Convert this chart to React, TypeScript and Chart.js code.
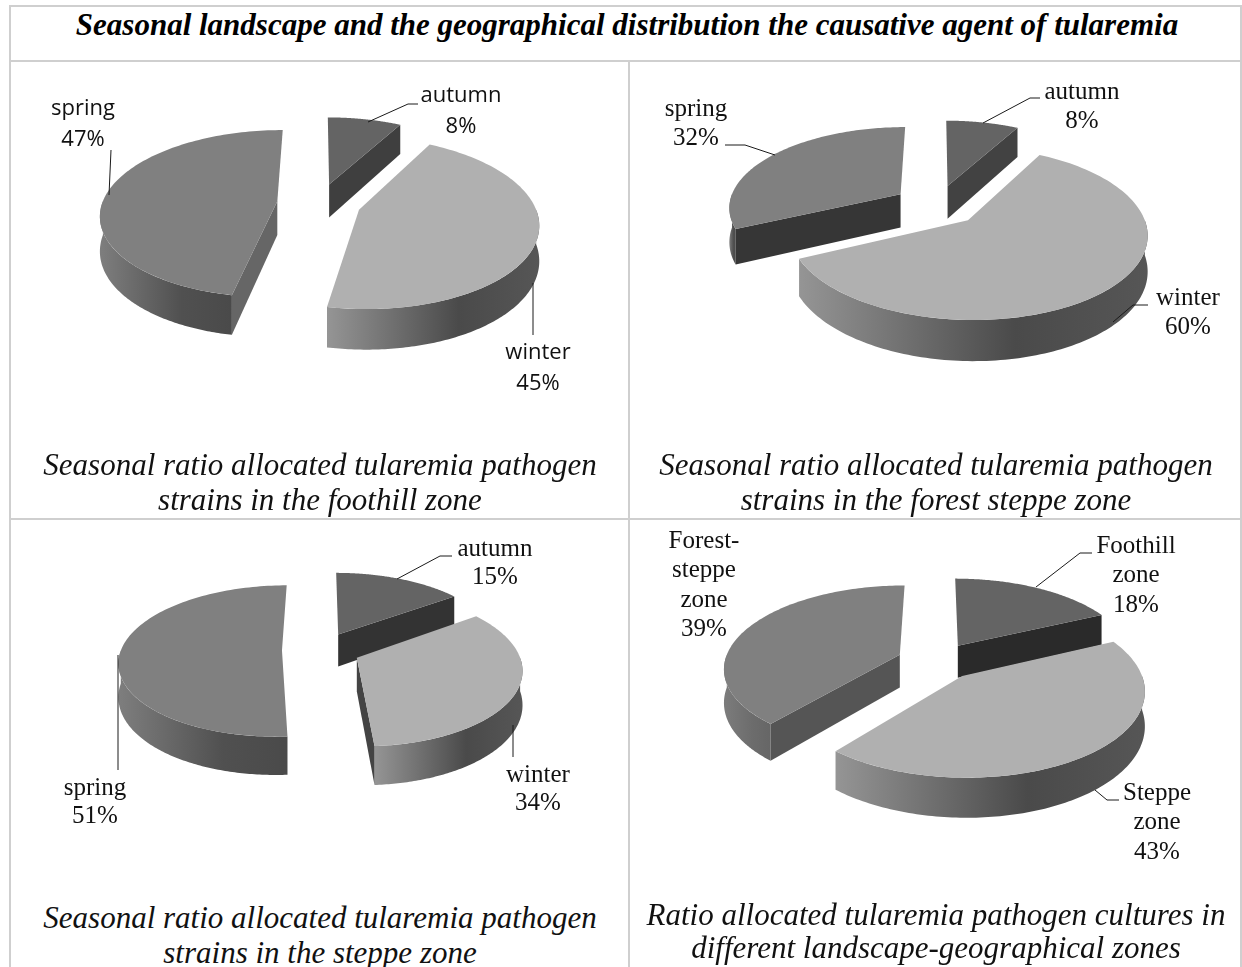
import React, { useEffect, useRef } from "react";
import { Chart, registerables } from "chart.js";

Chart.register(...registerables);

const titleText = "Seasonal landscape and the geographical distribution the causative agent of tularemia";

const seasons = ["autumn", "winter", "spring"];
const zones = ["Foothill zone", "Steppe zone", "Forest-steppe zone"];
const foothillValues = [8, 45, 47];
const forestSteppeValues = [8, 60, 32];
const steppeValues = [15, 34, 51];
const zoneValues = [18, 43, 39];

const sliceColors = ["#646464", "#b0b0b0", "#808080"];

const serif = '"Liberation Serif", serif';

type Panel = {
  labels: string[]; values: number[]; cx: number; cy: number; radius: number; offset: number; depth: number; tilt: number;
  cut: string[]; walls: string[][]; font: string; labelAt: number[][]; gap: number; leaders: number[][][];
};

const autumnWall = ["#4a4a4a", "#3c3c3c", "#3c3c3c"];
const winterWall = ["#959595", "#4a4a4a", "#565656"];
const springWall = ["#7e7e7e", "#505050", "#4a4a4a"];

const panels: Panel[] = [
  {
    labels: seasons, values: foothillValues, cx: 319, cy: 203, radius: 175, offset: 42, depth: 34, tilt: 0.47,
    cut: ["#3f3f3f", "#444", "#666666"], walls: [autumnWall, winterWall, springWall],
    font: '22px "Open Sans", sans-serif',
    labelAt: [[461, 96], [538, 353], [83, 109]], gap: 31,
    leaders: [
      [[368, 122], [408, 104], [418, 104]],
      [[533, 283], [533, 335]],
      [[111, 150], [109, 195]],
    ],
  },
  {
    labels: seasons, values: forestSteppeValues, cx: 937, cy: 205, radius: 172, offset: 44, depth: 34, tilt: 0.465,
    cut: ["#424242", "#444", "#363636"], walls: [autumnWall, winterWall, springWall],
    font: `25px ${serif}`,
    labelAt: [[1082, 92], [1188, 298], [696, 109]], gap: 29,
    leaders: [
      [[983, 123], [1030, 98], [1040, 98]],
      [[1113, 322], [1133, 305], [1148, 305]],
      [[725, 145], [745, 145], [775, 155]],
    ],
  },
  {
    labels: seasons, values: steppeValues, cx: 321, cy: 650, radius: 161, offset: 39, depth: 33, tilt: 0.46,
    cut: ["#333333", "#444444", "#555"], walls: [autumnWall, winterWall, springWall],
    font: `25px ${serif}`,
    labelAt: [[495, 549], [538, 775], [95, 788]], gap: 28.5,
    leaders: [
      [[397, 579], [440, 556], [452, 556]],
      [[513, 725], [513, 757]],
      [[118, 655], [118, 770]],
    ],
  },
  {
    labels: zones, values: zoneValues, cx: 937, cy: 661, radius: 175, offset: 40, depth: 33, tilt: 0.465,
    cut: ["#2a2a2a", "#444", "#555555"], walls: [autumnWall, winterWall, ["#7c7c7c", "#6c6c6c", "#666666"]],
    font: `25px ${serif}`,
    labelAt: [[1136, 546], [1157, 793], [704, 541]], gap: 29.5,
    leaders: [
      [[1036, 587], [1080, 553], [1092, 553]],
      [[1095, 790], [1107, 800], [1119, 800]],
      [],
    ],
  },
];

const captions = [
  { lines: ["Seasonal ratio allocated tularemia pathogen", "strains in the foothill zone"], x: 320, y: [465, 500] },
  { lines: ["Seasonal ratio allocated tularemia pathogen", "strains in the forest steppe zone"], x: 936, y: [465, 500] },
  { lines: ["Seasonal ratio allocated tularemia pathogen", "strains in the steppe zone"], x: 320, y: [918, 953] },
  { lines: ["Ratio allocated tularemia pathogen cultures in", "different landscape-geographical zones"], x: 936, y: [915, 948] },
];

const gridLines = [
  [9, 5, 1232, 2], [9, 60, 1232, 2], [9, 518, 1232, 2],
  [9, 5, 2, 962], [628, 60, 2, 907], [1240, 5, 2, 962],
];

const CANVAS_W = 620;
const CANVAS_H = 460;
const FOCAL = 1170;

function piePlugin(panel: Panel) {
  const originX = panel.cx - CANVAS_W / 2;
  const originY = panel.cy - CANVAS_H / 2;
  return {
    id: "tiltedPie",
    beforeDatasetsDraw(chart: any) {
      const ctx: CanvasRenderingContext2D = chart.ctx;
      const arcs = chart.getDatasetMeta(0).data.map((arc: any, i: number) => {
        const p = arc.getProps(["x", "y", "startAngle", "endAngle", "outerRadius"], true);
        const start = p.startAngle + Math.PI / 2;
        const end = p.endAngle + Math.PI / 2;
        const mid = (start + end) / 2;
        const off = arc.options.offset;
        return {
          i, start, end, cx: p.x, cy: p.y, r: p.outerRadius,
          ax: Math.sin(mid) * off, az: -Math.cos(mid) * off, color: arc.options.backgroundColor,
        };
      });
      arcs.sort((a: any, b: any) => a.az - b.az);
      for (const a of arcs) {
        const proj = (X: number, Z: number, lift: number) => {
          const s = FOCAL / (FOCAL - Z);
          return [a.cx + X * s, a.cy + panel.tilt * Z * s + lift * s];
        };
        const rim = (t: number, lift: number) =>
          proj(a.ax + a.r * Math.sin(t), a.az - a.r * Math.cos(t), lift);
        const apex = (lift: number) => proj(a.ax, a.az, lift);
        const poly = (pts: number[][], fill: any) => {
          ctx.beginPath();
          pts.forEach((q, n) => (n ? ctx.lineTo(q[0], q[1]) : ctx.moveTo(q[0], q[1])));
          ctx.closePath();
          ctx.fillStyle = fill;
          ctx.fill();
        };
        const steps = 120;
        const sweep = (from: number, to: number, lift: number) => {
          const out: number[][] = [];
          for (let n = 0; n <= steps; n++) out.push(rim(from + ((to - from) * n) / steps, lift));
          return out;
        };
        // outer wall, front half only
        const from = Math.max(a.start, Math.PI / 2);
        const to = Math.min(a.end, (3 * Math.PI) / 2);
        if (to > from) {
          const upper = sweep(from, to, 0);
          const lower = sweep(to, from, panel.depth);
          const xs = upper.map((q) => q[0]);
          const grad = ctx.createLinearGradient(Math.min(...xs), 0, Math.max(...xs), 0);
          const stops = panel.walls[a.i];
          grad.addColorStop(0, stops[0]);
          grad.addColorStop(0.62, stops[1]);
          grad.addColorStop(1, stops[2]);
          poly([...upper, ...lower], grad);
        }
        // cut faces that look toward the viewer
        const face = (t: number) =>
          poly([apex(0), rim(t, 0), rim(t, panel.depth), apex(panel.depth)], panel.cut[a.i]);
        if (Math.sin(a.start) < -0.001) face(a.start);
        if (Math.sin(a.end) > 0.001) face(a.end);
        // top face
        poly([apex(0), ...sweep(a.start, a.end, 0)], a.color);
      }
      return false;
    },
    afterDraw(chart: any) {
      const ctx: CanvasRenderingContext2D = chart.ctx;
      ctx.save();
      ctx.translate(-originX, -originY);
      ctx.strokeStyle = "#1a1a1a";
      ctx.lineWidth = 1;
      panel.leaders.forEach((pts) => {
        if (!pts.length) return;
        ctx.beginPath();
        pts.forEach((q, n) => (n ? ctx.lineTo(q[0], q[1]) : ctx.moveTo(q[0], q[1])));
        ctx.stroke();
      });
      ctx.fillStyle = "#111";
      ctx.font = panel.font;
      ctx.textAlign = "center";
      ctx.textBaseline = "middle";
      panel.labels.forEach((label, i) => {
        const words = label.replace("-", "- ").split(" ");
        const lines = [...words, `${panel.values[i]}%`];
        lines.forEach((line, n) => {
          ctx.fillText(line, panel.labelAt[i][0], panel.labelAt[i][1] + n * panel.gap);
        });
      });
      ctx.restore();
    },
  };
}

function PiePanel({ panel }: { panel: Panel }) {
  const ref = useRef<HTMLCanvasElement>(null);
  useEffect(() => {
    const chart = new Chart(ref.current as HTMLCanvasElement, {
      type: "pie",
      data: {
        labels: panel.labels,
        datasets: [{
          data: panel.values,
          backgroundColor: sliceColors,
          borderWidth: 0,
          offset: panel.offset,
        }],
      },
      options: {
        animation: false,
        responsive: false,
        radius: panel.radius,
        events: [],
        plugins: { legend: { display: false }, tooltip: { enabled: false } },
      } as any,
      plugins: [piePlugin(panel)],
    });
    return () => chart.destroy();
  }, [panel]);
  return (
    <canvas
      ref={ref}
      width={CANVAS_W}
      height={CANVAS_H}
      style={{
        position: "absolute",
        left: panel.cx - CANVAS_W / 2,
        top: panel.cy - CANVAS_H / 2,
        width: CANVAS_W,
        height: CANVAS_H,
      }}
    />
  );
}

export default function App() {
  return (
    <div style={{ position: "fixed", left: 0, top: 0, width: 1242, height: 967, overflow: "hidden", background: "#fff", filter: "blur(0.45px)" }}>
      {gridLines.map((g, i) => (
        <div key={i} style={{ position: "absolute", left: g[0], top: g[1], width: g[2], height: g[3], background: "#cfcfcf" }} />
      ))}
      <div style={{
        position: "absolute", left: 0, width: 1254, top: 25, transform: "translateY(-50%)", textAlign: "center",
        font: `italic bold 31px ${serif}`, color: "#000", whiteSpace: "nowrap",
      }}>{titleText}</div>
      {panels.map((p, i) => <PiePanel key={i} panel={p} />)}
      {captions.flatMap((c, i) => c.lines.map((line, n) => (
        <div key={`${i}-${n}`} style={{
          position: "absolute", left: c.x - 310, width: 620, top: c.y[n], transform: "translateY(-50%)", textAlign: "center",
          font: `italic 31px ${serif}`, color: "#111", whiteSpace: "nowrap",
        }}>{line}</div>
      )))}
    </div>
  );
}
